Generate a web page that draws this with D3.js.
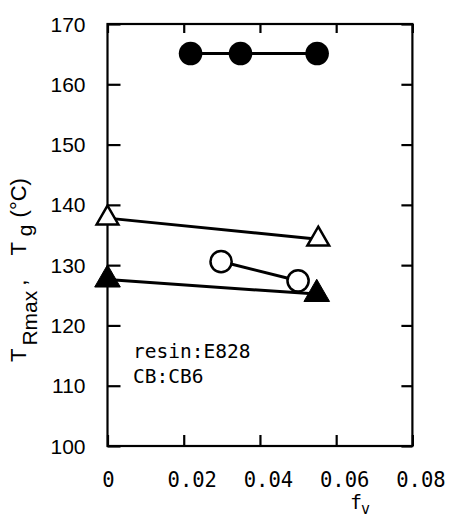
<!DOCTYPE html>
<html>
<head>
<meta charset="utf-8">
<script src="https://cdn.jsdelivr.net/npm/d3@7"></script>
<style>
  html, body { margin: 0; padding: 0; background: #fff; }
  svg { display: block; }
</style>
</head>
<body>
<svg id="chart" width="451" height="525"></svg>
<script>
// Transition temperatures vs. carbon black volume fraction f_v
const xTicks = [0, 0.02, 0.04, 0.06, 0.08];
const yTicks = [100, 110, 120, 130, 140, 150, 160, 170];

// T_Rmax (filled circles)
const filledCircleF = [0.0218, 0.0349, 0.0550];
const filledCircleT = [165.1, 165.1, 165.1];

// open triangles
const openTriF = [0, 0.0553];
const openTriT = [137.8, 134.3];

// filled triangles
const filledTriF = [0, 0.0549];
const filledTriT = [127.6, 125.2];

// open circles
const openCircleF = [0.0298, 0.0500];
const openCircleT = [130.6, 127.4];

const noteLines = ["resin:E828", "CB:CB6"];

const svg = d3.select("#chart");
svg.append("rect").attr("width", 451).attr("height", 525).attr("fill", "#fff");

const x = d3.scaleLinear().domain([0, 0.08]).range([107.5, 412.4]);
const y = d3.scaleLinear().domain([100, 170]).range([446, 24]);

const sans = "'Liberation Sans', Arial, Helvetica, sans-serif";
const mono = "'DejaVu Sans Mono', monospace";

// frame
svg.append("rect")
  .attr("x", x(0)).attr("y", y(170))
  .attr("width", x(0.08) - x(0)).attr("height", y(100) - y(170))
  .attr("fill", "none").attr("stroke", "#000").attr("stroke-width", 2.2);

const fmtX = d => d === 0 ? "0" : d3.format(".2f")(d);

// inward ticks on all four sides
const gL = svg.append("g").attr("transform", `translate(${x(0)},0)`)
  .call(d3.axisLeft(y).tickValues(yTicks).tickSizeInner(-13).tickSizeOuter(0).tickPadding(22));
const gR = svg.append("g").attr("transform", `translate(${x(0.08)},0)`)
  .call(d3.axisRight(y).tickValues(yTicks).tickSizeInner(-11).tickSizeOuter(0).tickFormat(""));
const gB = svg.append("g").attr("transform", `translate(0,${y(100)})`)
  .call(d3.axisBottom(x).tickValues(xTicks).tickSizeInner(-11).tickSizeOuter(0).tickPadding(26).tickFormat(fmtX));
const gT = svg.append("g").attr("transform", `translate(0,${y(170)})`)
  .call(d3.axisTop(x).tickValues(xTicks).tickSizeInner(-9).tickSizeOuter(0).tickFormat(""));

[gL, gR, gB, gT].forEach(g => {
  g.select(".domain").remove();
  g.selectAll(".tick line").attr("stroke", "#000").attr("stroke-width", 2.2);
});

gL.selectAll(".tick text")
  .attr("font-family", sans).attr("font-size", 21).attr("fill", "#000")
  .attr("dy", "0.34em");

gB.selectAll(".tick text")
  .attr("font-family", mono).attr("font-size", 20.5).attr("fill", "#000")
  .attr("dx", d => d === 0 ? 0.5 : 8);

// connecting lines
const line = d3.line().x(d => x(d[0])).y(d => y(d[1]));
const series = [
  [filledCircleF, filledCircleT],
  [openTriF, openTriT],
  [filledTriF, filledTriT],
  [openCircleF, openCircleT]
];
series.forEach(([fs, ts]) => {
  svg.append("path")
    .datum(d3.zip(fs, ts))
    .attr("d", line)
    .attr("fill", "none").attr("stroke", "#000").attr("stroke-width", 3);
});

// markers
svg.append("g").selectAll("circle")
  .data(d3.zip(filledCircleF, filledCircleT)).join("circle")
  .attr("cx", d => x(d[0])).attr("cy", d => y(d[1])).attr("r", 11.8)
  .attr("fill", "#000");

svg.append("g").selectAll("circle")
  .data(d3.zip(openCircleF, openCircleT)).join("circle")
  .attr("cx", d => x(d[0])).attr("cy", d => y(d[1])).attr("r", 10.6)
  .attr("fill", "#fff").attr("stroke", "#000").attr("stroke-width", 2.5);

const triOpen = d3.symbol().type(d3.symbolTriangle).size(205);
const triFilled = d3.symbol().type(d3.symbolTriangle).size(285);

svg.append("g").selectAll("path")
  .data(d3.zip(openTriF, openTriT)).join("path")
  .attr("transform", d => `translate(${x(d[0])},${y(d[1])})`)
  .attr("d", triOpen)
  .attr("fill", "#fff").attr("stroke", "#000").attr("stroke-width", 2.5)
  .attr("stroke-linejoin", "miter");

svg.append("g").selectAll("path")
  .data(d3.zip(filledTriF, filledTriT)).join("path")
  .attr("transform", d => `translate(${x(d[0])},${y(d[1])})`)
  .attr("d", triFilled)
  .attr("fill", "#000").attr("stroke", "#000").attr("stroke-width", 1);

// annotation
svg.append("text")
  .attr("font-family", mono).attr("font-size", 19.5).attr("fill", "#000")
  .selectAll("tspan").data(noteLines).join("tspan")
  .attr("x", 133).attr("y", (d, i) => 358 + i * 25)
  .text(d => d);

// x axis title f_v
const xt = svg.append("text")
  .attr("x", 360).attr("y", 509)
  .attr("text-anchor", "middle")
  .attr("font-family", mono).attr("font-size", 20).attr("fill", "#000");
xt.append("tspan").text("f");
xt.append("tspan").attr("font-size", 15).attr("dy", 5).attr("dx", -1).text("v");

// y axis title T_Rmax, T_g (°C)
const yt = svg.append("text")
  .attr("transform", "translate(26,362) rotate(-90)")
  .attr("font-family", sans).attr("font-size", 22).attr("fill", "#000");
yt.append("tspan").text("T");
yt.append("tspan").attr("dy", 11).attr("font-size", 21).attr("dx", 3).text("Rmax");
yt.append("tspan").attr("dy", -11).attr("dx", 5).text(",");
yt.append("tspan").attr("dx", 24).text("T");
yt.append("tspan").attr("dy", 6).attr("font-size", 21).attr("dx", 6).text("g");
yt.append("tspan").attr("dy", -6).attr("dx", 7).text("(°C)");
</script>
</body>
</html>
